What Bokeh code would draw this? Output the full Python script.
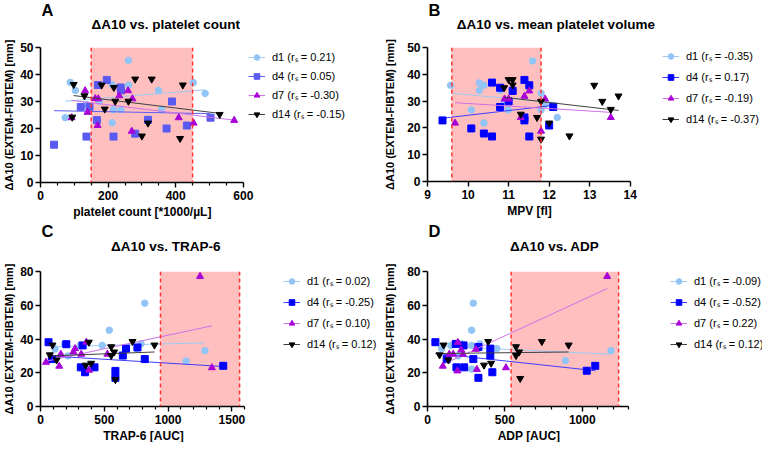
from bokeh.plotting import figure
from bokeh.layouts import row, column
from bokeh.models import Legend, LegendItem, Span, Title, FixedTicker, Range1d
from bokeh.core.properties import value
from bokeh.embed import file_html
from bokeh.resources import INLINE

# ---------------- data ----------------
# Panel A: platelet count
a_d1_x = [73, 88, 103, 136, 174, 212, 212, 216, 238, 260, 261, 349, 358, 452, 487]
a_d1_y = [24.0, 37.1, 34.1, 28.9, 30.1, 36.2, 22.1, 27.0, 27.0, 45.2, 36.1, 34.1, 27.0, 37.0, 33.0]
a_d4_x = [40, 119, 136, 145, 167, 170, 196, 216, 237, 238, 280, 318, 373, 389, 433, 503]
a_d4_y = [14.0, 28.0, 17.0, 28.0, 23.1, 36.1, 38.0, 17.0, 35.2, 34.1, 18.1, 23.2, 20.0, 30.0, 21.1, 24.0]
a_d7_x = [92, 132, 139, 162, 169, 171, 233, 259, 270, 272, 409, 453, 573]
a_d7_y = [24.0, 34.0, 26.0, 31.1, 21.1, 31.0, 32.1, 34.0, 19.0, 31.0, 24.0, 22.0, 23.0]
a_d14_x = [94, 98, 130, 181, 190, 217, 221, 260, 280, 300, 318, 329, 413, 421, 530]
a_d14_y = [24.2, 36.3, 32.1, 36.1, 27.2, 35.2, 30.1, 30.1, 38.3, 17.2, 22.0, 38.3, 16.3, 36.1, 25.2]
a_fit_x = [[73, 487], [40, 503], [92, 573], [98, 530]]
a_fit_y = [[30.1, 34.3], [26.6, 25.5], [30.4, 23.1], [32.2, 25.6]]
a_rs = ["0.21", "0.05", "-0.30", "-0.15"]
a_band = [150, 450]

# Panel B: MPV
b_d1_x = [9.57, 10.08, 10.28, 10.28, 10.39, 10.39, 10.79, 10.89, 10.99, 11.59, 11.80, 11.80, 11.90, 12.20]
b_d1_y = [35.9, 26.7, 36.8, 34.0, 35.9, 21.8, 34.0, 29.7, 26.7, 45.0, 32.9, 26.7, 28.8, 23.9]
b_d4_x = [9.37, 10.08, 10.39, 10.59, 10.59, 10.79, 10.79, 11.0, 11.10, 11.39, 11.39, 11.39, 11.51, 11.51, 12.0, 12.10]
b_d4_y = [22.8, 19.8, 17.9, 16.8, 36.9, 35.0, 27.8, 29.9, 33.8, 37.9, 23.9, 22.8, 35.9, 16.8, 20.9, 27.8]
b_d7_x = [9.68, 10.9, 11.0, 11.30, 11.39, 11.51, 11.80, 11.90, 13.52]
b_d7_y = [21.8, 30.8, 30.8, 23.9, 31.8, 33.8, 18.8, 30.8, 23.9]
b_d14_x = [10.89, 11.0, 11.10, 11.10, 11.30, 11.70, 11.80, 11.80, 12.0, 12.50, 13.11, 13.31, 13.52, 13.71]
b_d14_y = [35.0, 38.0, 38.0, 36.0, 25.1, 23.9, 29.9, 15.8, 21.8, 17.0, 35.9, 29.9, 26.9, 31.9]
b_fit_x = [[9.59, 12.2], [9.37, 12.10], [9.68, 13.52], [10.9, 13.71]]
b_fit_y = [[32.9, 29.4], [23.6, 28.4], [29.4, 25.8], [31.4, 26.5]]
b_rs = ["-0.35", "0.17", "-0.19", "-0.37"]
b_band = [9.6, 11.8]

# Panel C: TRAP-6
c_d1_x = [114, 190, 215, 311, 379, 483, 539, 754, 787, 817, 1141, 1288]
c_d1_y = [34.1, 37.1, 30.0, 36.2, 22.2, 36.2, 45.2, 34.3, 37.1, 61.2, 27.0, 33.1]
c_d4_x = [63, 89, 202, 316, 330, 349, 423, 587, 587, 645, 670, 760, 817, 1432]
c_d4_y = [38.1, 28.1, 36.9, 23.2, 36.2, 20.3, 23.2, 21.1, 17.0, 30.2, 34.3, 35.0, 28.1, 24.1]
c_d7_x = [43, 147, 159, 258, 271, 319, 359, 380, 524, 1250, 1343]
c_d7_y = [26.2, 23.9, 31.0, 32.3, 34.3, 31.0, 38.1, 21.5, 31.0, 77.1, 23.0]
c_d14_x = [73, 94, 126, 354, 379, 397, 554, 554, 577, 587, 721, 893]
c_d14_y = [30.6, 36.4, 27.6, 24.5, 38.1, 25.6, 35.4, 30.2, 32.3, 15.9, 38.5, 36.4]
c_fit_x = [[89, 1288], [63, 1432], [43, 1343], [73, 893]]
c_fit_y = [[35.4, 37.7], [30.0, 23.7], [26.8, 47.8], [30.0, 32.3]]
c_rs = ["0.02", "-0.25", "0.10", "0.12"]
c_band = [940, 1560]

# Panel D: ADP
d_d1_x = [91, 152, 198, 223, 285, 285, 285, 296, 338, 448, 891, 1186]
d_d1_y = [34.3, 36.2, 30.0, 37.1, 36.2, 45.2, 22.2, 61.2, 37.1, 34.3, 27.2, 33.1]
d_d4_x = [51, 124, 183, 187, 233, 237, 296, 329, 329, 406, 406, 419, 1029, 1084]
d_d4_y = [38.1, 28.1, 37.1, 23.2, 36.2, 23.2, 28.1, 17.0, 35.2, 34.3, 30.2, 20.3, 21.2, 24.1]
d_d7_x = [99, 141, 166, 193, 196, 218, 229, 312, 319, 507, 1161]
d_d7_y = [23.9, 31.0, 31.0, 21.1, 38.0, 33.5, 31.0, 33.9, 22.0, 23.0, 77.1]
d_d14_x = [78, 104, 135, 365, 392, 411, 572, 572, 592, 599, 739, 912]
d_d14_y = [30.6, 36.4, 27.6, 24.5, 38.5, 25.6, 35.4, 30.2, 32.3, 16.6, 38.5, 36.4]
d_fit_x = [[91, 1186], [51, 1084], [99, 1161], [78, 912]]
d_fit_y = [[35.6, 31.0], [31.5, 21.2], [24.9, 69.9], [31.4, 32.3]]
d_rs = ["-0.09", "-0.52", "0.22", "0.12"]
d_band = [540, 1235]

series_names = ["d1", "d4", "d7", "d14"]

# ticks
a_xticks = [0, 200, 400, 600]
a_xminor = [50, 100, 150, 250, 300, 350, 450, 500, 550]
ab_yticks = [0, 10, 20, 30, 40, 50]
b_xticks = [9, 10, 11, 12, 13, 14]
cd_yticks = [0, 20, 40, 60, 80]
c_xticks = [0, 500, 1000, 1500]
c_xminor = [100, 200, 300, 400, 600, 700, 800, 900, 1100, 1200, 1300, 1400, 1600]
d_xticks = [0, 500, 1000]
d_xminor = [100, 200, 300, 400, 600, 700, 800, 900, 1100, 1200, 1300]

# ---------------- style ----------------
FONT = "Liberation Sans"
W, H = 381, 221
MARKERS = ["circle", "square", "triangle", "inverted_triangle"]
PT_COL = ["#92c5f5", "#0000ff", "#a800d8", "#000000"]
LN_COL = ["#9fcbf2", "#3c3cff", "#d070e8", "#404040"]
PINK = "#ffbfbf"
RED = "#ff3333"
TOP_PAD = 10

# Arial/Liberation Sans Bold advance widths (per 1000 em), to centre texts
_BW = {" ": 278, "(": 333, ")": 333, "*": 389, "-": 333, ".": 278, "/": 278,
       "[": 333, "]": 333, "\u00b5": 611, "\u0394": 700,
       "A": 722, "B": 722, "C": 722, "D": 722, "E": 667, "F": 611, "I": 278,
       "L": 611, "M": 833, "P": 667, "R": 722, "T": 611, "U": 722, "V": 667,
       "X": 667, "a": 556, "b": 611, "c": 556, "e": 556, "f": 333, "l": 278,
       "m": 889, "n": 611, "o": 611, "p": 611, "r": 389, "s": 556, "t": 333,
       "u": 611, "v": 556}


def bold_width(text, size):
    return sum(_BW.get(ch, 556) for ch in text) * size / 1000.0


def make_header(letter, title, bl, br, ht, title_y):
    """Strip above a panel holding the panel letter and the panel title."""
    fw = W - bl - br
    t = figure(width=W, height=ht, output_backend="svg", toolbar_location=None,
               x_range=Range1d(0, W), y_range=Range1d(ht, 0),
               x_axis_type=None, y_axis_type=None,
               min_border_left=0, min_border_right=0, min_border_top=0,
               min_border_bottom=0)
    t.grid.visible = False
    t.outline_line_color = None
    t.text(x=[1], y=[0], text=[letter], text_font=value(FONT),
           text_font_size="16.5px", text_font_style="bold", text_color="black",
           text_align="left", text_baseline="top")
    t.text(x=[bl + fw / 2], y=[title_y], text=[title], text_font=value(FONT),
           text_font_size="13.5px", text_font_style="bold", text_color="black",
           text_align="center", text_baseline="middle")
    return t


def make_panel(xlabel, xr, yr, xticks, xminor, yticks, band,
               xs, ys, fit_x, fit_y, rs, geom, leg, ystand, d4col=None, d4line=None):
    bl, br, ht, bb = geom
    hp = H - ht
    fw = W - bl - br              # width of the data part of the frame
    fw_all = W - bl               # frame also hosts the legend on its right
    fh = hp - TOP_PAD - bb
    x_end = xr[0] + (xr[1] - xr[0]) * fw_all / fw
    p = figure(width=W, height=hp, output_backend="svg", toolbar_location=None,
               x_range=Range1d(xr[0], x_end), y_range=Range1d(*yr),
               min_border_left=bl, min_border_right=0,
               min_border_top=TOP_PAD, min_border_bottom=bb)
    p.outline_line_color = None
    p.xgrid.visible = False
    p.ygrid.visible = False
    p.background_fill_color = "white"

    p.quad(left=[band[0]], right=[band[1]], bottom=[yr[0]], top=[yr[1]],
           fill_color=PINK, line_color=None)
    for b in band:
        p.add_layout(Span(location=b, dimension="height", line_color=RED,
                          line_dash="4 3", line_width=1.5))

    items = []
    for i in range(4):
        pc = PT_COL[i]
        lc = LN_COL[i]
        if i == 1 and d4col is not None:
            pc = d4col
            lc = d4line
        lr = p.line(fit_x[i], fit_y[i], line_color=lc, line_width=1)
        sr = p.scatter(xs[i], ys[i], marker=MARKERS[i], size=7 if i else 6.5,
                       fill_color=pc, line_color=pc)
        items.append(LegendItem(label=f"{series_names[i]} (r\u209b = {rs[i]})",
                                renderers=[lr, sr]))

    dx, c0, pitch = leg
    lh = 14
    sp = int(round(pitch - lh))
    leg_h = 4 * lh + 3 * sp
    legend = Legend(items=items,
                    location=(fw + dx, fh - (c0 - lh / 2) - leg_h),
                    border_line_color=None, background_fill_alpha=0,
                    padding=0, margin=0, spacing=sp,
                    label_height=lh, glyph_height=lh, glyph_width=17,
                    label_standoff=7, label_text_font=FONT,
                    label_text_font_size="11px", label_text_color="black")
    p.add_layout(legend)

    for ax in (p.xaxis[0], p.yaxis[0]):
        ax.axis_line_width = 1.6
        ax.axis_line_color = "black"
        ax.major_tick_line_color = "black"
        ax.major_tick_line_width = 1.4
        ax.minor_tick_line_color = "black"
        ax.minor_tick_line_width = 1.2
        ax.major_tick_in = 0
        ax.major_tick_out = 5
        ax.minor_tick_in = 0
        ax.minor_tick_out = 3
        ax.major_label_text_font = FONT
        ax.major_label_text_font_style = "bold"
        ax.major_label_text_font_size = "12px"
        ax.major_label_text_color = "black"
        ax.axis_label_text_font = FONT
        ax.axis_label_text_font_style = "bold"
        ax.axis_label_text_color = "black"
    p.xaxis.bounds = (xr[0], xr[1])
    p.xaxis.major_label_standoff = 3
    p.yaxis.axis_label = "\u0394A10 (EXTEM-FIBTEM) [mm]"
    p.yaxis.axis_label_text_font_size = "11px"
    p.yaxis.major_label_standoff = 2
    p.yaxis.axis_label_standoff = ystand
    p.xaxis.ticker = FixedTicker(ticks=xticks, minor_ticks=xminor)
    p.yaxis.ticker = FixedTicker(ticks=yticks, minor_ticks=[])

    # x axis label, centred under the data part of the frame
    xsize = 12
    p.add_layout(Title(text=xlabel, align="left",
                       offset=(fw - bold_width(xlabel, xsize)) / 2,
                       text_font=FONT, text_font_size=f"{xsize}px",
                       text_font_style="bold", text_color="black",
                       standoff=0), "below")
    return p


gA, gB, gC, gD = (38, 139, 37, 39), (44, 133, 37, 40), (37, 138, 40, 36), (43, 135, 40, 36)

hA = make_header("A", "\u0394A10 vs. platelet count", gA[0], gA[1], gA[2], 24)
hB = make_header("B", "\u0394A10 vs. mean platelet volume", gB[0], gB[1], gB[2], 24)
hC = make_header("C", "\u0394A10 vs. TRAP-6", gC[0], gC[1], gC[2], 25)
hD = make_header("D", "\u0394A10 vs. ADP", gD[0], gD[1], gD[2], 25)

pA = make_panel("platelet count [*1000/\u00b5L]",
                (0, 600), (0, 50), a_xticks, a_xminor, ab_yticks, a_band,
                [a_d1_x, a_d4_x, a_d7_x, a_d14_x], [a_d1_y, a_d4_y, a_d7_y, a_d14_y],
                a_fit_x, a_fit_y, a_rs, gA, (4, 13, 18.5), 2,
                d4col="#5a5af2", d4line="#5c5cf0")
pB = make_panel("MPV [fl]",
                (9, 14), (0, 50), b_xticks, [], ab_yticks, b_band,
                [b_d1_x, b_d4_x, b_d7_x, b_d14_x], [b_d1_y, b_d4_y, b_d7_y, b_d14_y],
                b_fit_x, b_fit_y, b_rs, gB, (31, 12, 20.5), 8)
pC = make_panel("TRAP-6 [AUC]",
                (0, 1600), (0, 80), c_xticks, c_xminor, cd_yticks, c_band,
                [c_d1_x, c_d4_x, c_d7_x, c_d14_x], [c_d1_y, c_d4_y, c_d7_y, c_d14_y],
                c_fit_x, c_fit_y, c_rs, gC, (37, 13, 20), 2)
pD = make_panel("ADP [AUC]",
                (0, 1300), (0, 80), d_xticks, d_xminor, cd_yticks, d_band,
                [d_d1_x, d_d4_x, d_d7_x, d_d14_x], [d_d1_y, d_d4_y, d_d7_y, d_d14_y],
                d_fit_x, d_fit_y, d_rs, gD, (40, 13, 20), 8)

layout = column(row(column(hA, pA), column(hB, pB)),
                row(column(hC, pC), column(hD, pD)))
open("out.html", "w").write(file_html(layout, INLINE))
